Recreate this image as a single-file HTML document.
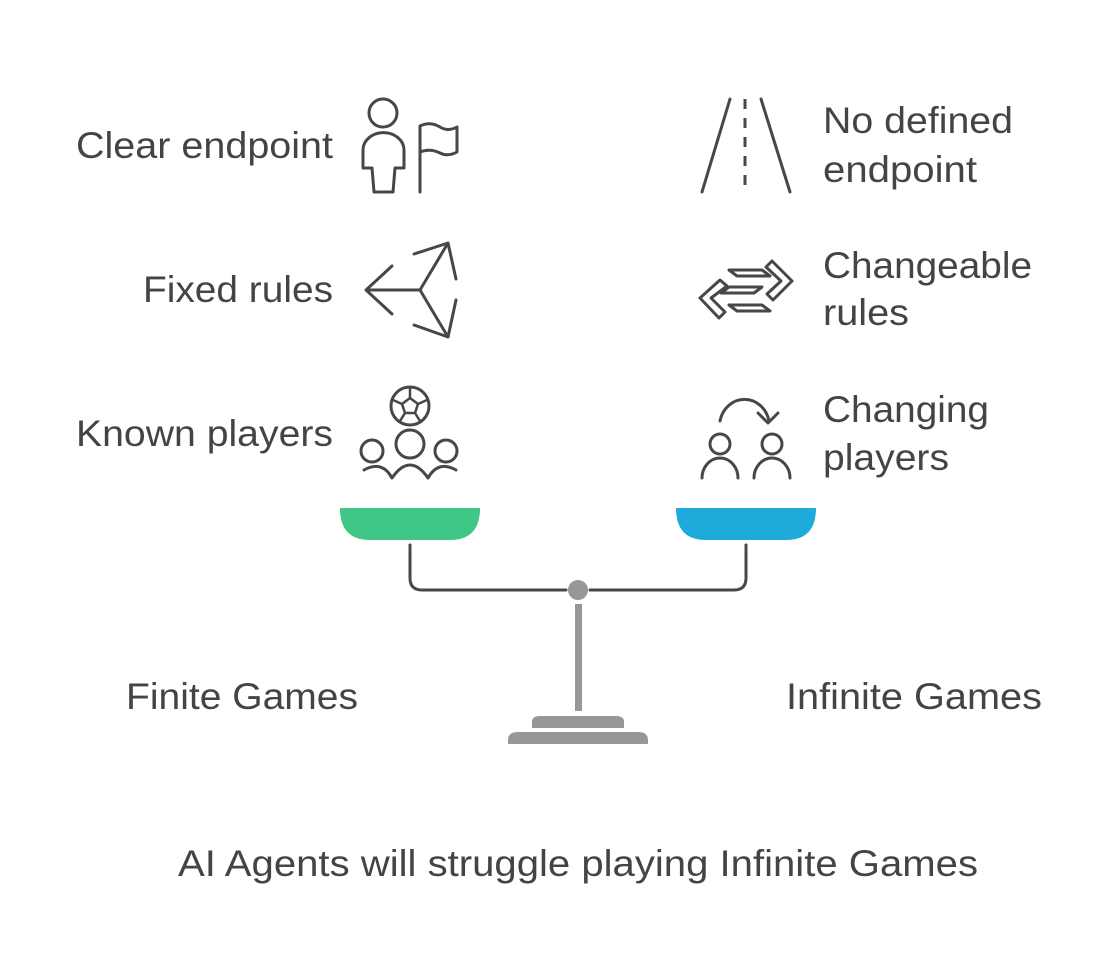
<!DOCTYPE html>
<html><head><meta charset="utf-8"><style>
html,body{margin:0;padding:0;background:#fff;}
svg{display:block;}
text{font-family:"Liberation Sans",sans-serif;fill:#444;font-size:37px;}
</style></head><body>
<svg width="1108" height="964" viewBox="0 0 1108 964" xmlns="http://www.w3.org/2000/svg">
<rect width="1108" height="964" fill="#fff"/>
<g fill="none" stroke="#474747" stroke-width="3" stroke-linecap="round" stroke-linejoin="round">
<circle cx="383" cy="113" r="14"/>
<path d="M374,192 L372,168 L363,168 L363,150 A20,17 0 0 1 404,150 L404,168 L395,168 L393,192 Z"/>
<path d="M420,192 L420,126 Q430,121 440,127 Q448,132 457,127 L457,152 Q448,157 440,153 Q430,148 420,152"/>
<path d="M730,99 L702,192 M761,99 L790,192"/>
<path d="M745,99 L745,192" stroke-dasharray="10 9" stroke-linecap="butt"/>
<path d="M420,290 L366,290 M392,266 L366,290 L392,314"/>
<path d="M420,290 L448,243 M414,254 L448,243 L456,279"/>
<path d="M420,290 L448,337 M414,325 L448,337 L456,300"/>
<path d="M720,280 L700,298 L719,318 L725,312 L711,298 L727,286 Z"/>
<path d="M772,261 L792,281 L773,300 L767,294 L781,281 L766,267 Z"/>
<path d="M729,270 L762,270 L770,276 L737,276 Z"/>
<path d="M729,287 L762,287 L754,293 L721,293 Z"/>
<path d="M729,305 L762,305 L770,311 L737,311 Z"/>
<path d="M720,421 A25,27 0 0 1 769,421"/>
<path d="M758,413 L768,423 L778,413"/>
<circle cx="720" cy="444" r="10"/>
<circle cx="772" cy="444" r="10"/>
<path d="M702,478 A18,20 0 0 1 738,478 M754,478 A18,20 0 0 1 790,478"/>
<circle cx="410" cy="406" r="19"/>
<path d="M410,398 L418,404 L415,413 L405,413 L402,404 Z M410,398 L410,388 M418,404 L427,400 M415,413 L420,421 M405,413 L400,421 M402,404 L393,400" stroke-width="2.5"/>
<circle cx="410" cy="444" r="14"/>
<circle cx="372" cy="451" r="11"/>
<circle cx="446" cy="451" r="11"/>
<path d="M364,470 Q382,460 392,478 Q410,452 428,478 Q438,460 456,470"/>
<path d="M410,545 L410,578 Q410,590 422,590 L566,590 M590,590 L734,590 Q746,590 746,578 L746,545"/>
</g>
<path d="M340,508 L480,508 Q480,540 450,540 L370,540 Q340,540 340,508 Z" fill="#3ec787"/>
<path d="M676,508 L816,508 Q816,540 786,540 L706,540 Q676,540 676,508 Z" fill="#1eabdc"/>
<circle cx="578" cy="590" r="10" fill="#979797"/>
<rect x="575" y="604" width="7" height="107" fill="#979797"/>
<path d="M532,728 L532,722 Q532,716 540,716 L616,716 Q624,716 624,722 L624,728 Z" fill="#979797"/>
<path d="M508,744 L508,740 Q508,732 518,732 L638,732 Q648,732 648,740 L648,744 Z" fill="#979797"/>
<g lengthAdjust="spacingAndGlyphs">
<text x="333" y="158" text-anchor="end" textLength="257" lengthAdjust="spacingAndGlyphs">Clear endpoint</text>
<text x="333" y="302" text-anchor="end" textLength="190" lengthAdjust="spacingAndGlyphs">Fixed rules</text>
<text x="333" y="446" text-anchor="end" textLength="257" lengthAdjust="spacingAndGlyphs">Known players</text>
<text x="823" y="133" textLength="190" lengthAdjust="spacingAndGlyphs">No defined</text>
<text x="823" y="182" textLength="154" lengthAdjust="spacingAndGlyphs">endpoint</text>
<text x="823" y="278" textLength="209" lengthAdjust="spacingAndGlyphs">Changeable</text>
<text x="823" y="325" textLength="86" lengthAdjust="spacingAndGlyphs">rules</text>
<text x="823" y="422" textLength="166" lengthAdjust="spacingAndGlyphs">Changing</text>
<text x="823" y="470" textLength="126" lengthAdjust="spacingAndGlyphs">players</text>
<text x="126" y="709" textLength="232" lengthAdjust="spacingAndGlyphs">Finite Games</text>
<text x="786" y="709" textLength="256" lengthAdjust="spacingAndGlyphs">Infinite Games</text>
<text x="178" y="876" textLength="800" lengthAdjust="spacingAndGlyphs">AI Agents will struggle playing Infinite Games</text>
</g>
</svg>
</body></html>
